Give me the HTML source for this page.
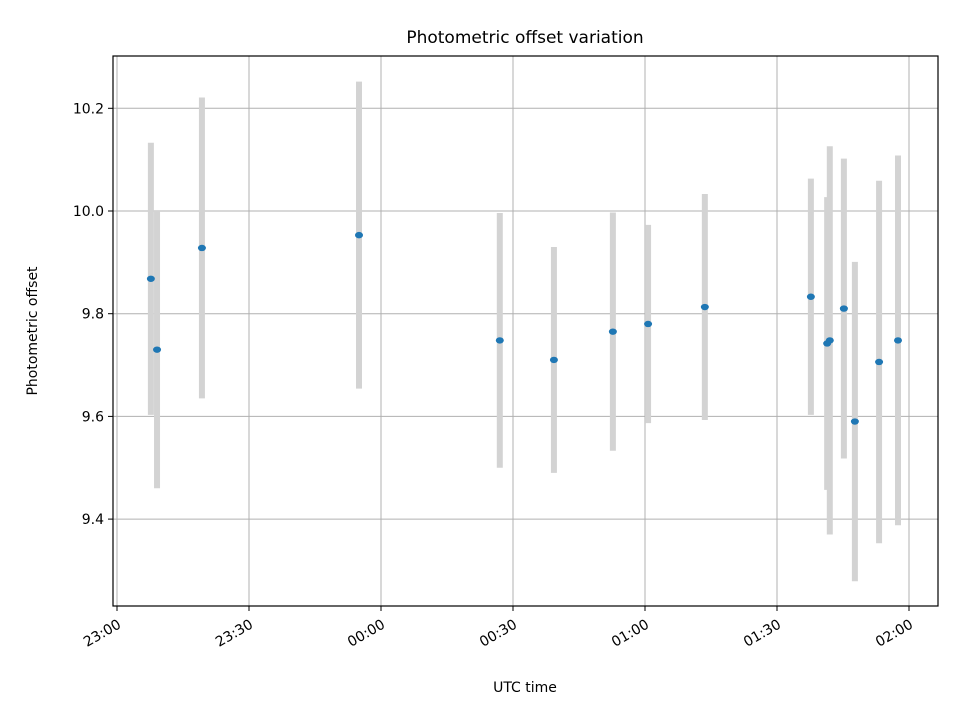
<!DOCTYPE html>
<html><head><meta charset="utf-8"><style>
body{margin:0;background:#fff}
text{font-family:"DejaVu Sans","Liberation Sans",sans-serif;fill:#000}
</style></head><body>
<svg id="chart" width="960" height="720" xmlns="http://www.w3.org/2000/svg">
<rect width="960" height="720" fill="#fff"/>
<g id="grid"></g>
<g id="bars"></g>
<g id="pts"></g>
<rect x="113" y="56" width="825" height="550" fill="none" stroke="#000" stroke-width="1.2"/>
<g id="ticks"></g>
<text x="525" y="43" font-size="17" text-anchor="middle">Photometric offset variation</text>
<text x="525" y="692" font-size="14" text-anchor="middle">UTC time</text>
<text transform="translate(37,331) rotate(-90)" font-size="14" text-anchor="middle">Photometric offset</text>
</svg>
<script>
const times=["23:07:42","23:09:06","23:19:18","23:55:00","00:27:00","00:39:18","00:52:42","01:00:42","01:13:36","01:37:42","01:41:24","01:42:00","01:45:12","01:47:42","01:53:12","01:57:30"];
const values=[9.868,9.73,9.928,9.953,9.748,9.71,9.765,9.78,9.813,9.833,9.742,9.748,9.81,9.59,9.706,9.748];
const errors=[0.265,0.27,0.293,0.299,0.248,0.22,0.232,0.193,0.22,0.23,0.285,0.378,0.292,0.311,0.353,0.36];
const xTickLabels=["23:00","23:30","00:00","00:30","01:00","01:30","02:00"];
const yTicks=[9.4,9.6,9.8,10.0,10.2];
const NS="http://www.w3.org/2000/svg";
function mins(t){const p=t.split(":").map(Number);let m=p[0]*60+p[1]+(p[2]||0)/60;if(p[0]<12)m+=1440;return m-1380;}
function xs(m){return 117+m*4.4;}
function ys(v){return 211-(v-10)*513.5;}
function mk(tag,parent,attrs){const e=document.createElementNS(NS,tag);for(const k in attrs)e.setAttribute(k,attrs[k]);document.getElementById(parent).appendChild(e);return e;}
xTickLabels.forEach((l,i)=>{const x=xs(mins(l+":00"));
const g=mk("line","grid",{x1:x,x2:x,y1:56,y2:606,stroke:"#b0b0b0","stroke-width":1});

const t=mk("line","ticks",{x1:x,x2:x,y1:606,y2:611,stroke:"#000"});

const tx=mk("text","ticks",{transform:`translate(${x+5},${627}) rotate(-30)`,"font-size":14,"text-anchor":"end"});
tx.textContent=l;});
yTicks.forEach(v=>{const y=ys(v);
const g=mk("line","grid",{x1:113,x2:938,y1:y,y2:y,stroke:"#b0b0b0","stroke-width":1});

const t=mk("line","ticks",{x1:108,x2:113,y1:y,y2:y,stroke:"#000"});

const tx=mk("text","ticks",{x:104,y:y+5,"font-size":14,"text-anchor":"end"});
tx.textContent=v.toFixed(1);});
times.forEach((t,i)=>{const x=xs(mins(t));
const b=mk("line","bars",{x1:x,x2:x,y1:ys(values[i]+errors[i]),y2:ys(values[i]-errors[i]),stroke:"#d3d3d3","stroke-width":6});

const p=mk("ellipse","pts",{cx:x,cy:ys(values[i]),rx:4,ry:3.2,fill:"#1f77b4"});
});
</script>
</body></html>
